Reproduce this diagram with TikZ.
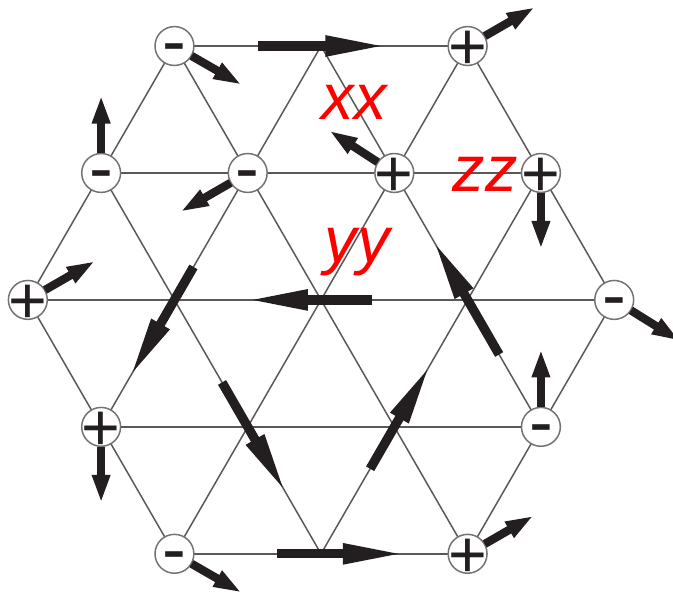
\documentclass[tikz,border=0pt]{standalone}
\usepackage{fontspec}
\usepackage{tikz}
\usetikzlibrary{arrows.meta,calc}
\newfontfamily\labelfont{Liberation Sans}
\definecolor{spinblack}{HTML}{231F20}

\begin{document}
\begin{tikzpicture}[scale=1.55,
  bond/.style={black!65,line width=0.45pt},
  site/.style={circle,draw=black!55,line width=0.45pt,fill=white,minimum size=11.7pt,inner sep=0pt},
  plussign/.style={font=\labelfont\fontsize{20}{20}\selectfont,text height=14.1pt,text depth=0pt,inner sep=0pt,text=spinblack},
  minussign/.style={font=\labelfont\fontsize{21.5}{21.5}\selectfont,text height=11.65pt,text depth=0pt,inner sep=0pt,text=spinblack},
  psite/.style={site,label={[plussign]center:+}},
  msite/.style={site,label={[minussign]center:-}},
  spin/.style={spinblack,line width=2.5pt,-{Triangle[length=8.5pt,width=5pt]}},
  bondspin/.style={spinblack,line width=2.8pt,-{Triangle[length=19pt,width=5.6pt]}},
  coupling/.style={red,font=\labelfont\itshape\fontsize{19.5}{19.5}\selectfont,anchor=base,inner sep=0pt}]
\useasboundingbox (-2.19,-2.046) rectangle (2.401,2.046);
% lattice
\foreach \r in {0,60,120}
  \foreach \k in {-2,...,2}
    \draw[bond,rotate=\r] ({-2+abs(\k)/2},{\k*0.866}) -- ({2-abs(\k)/2},{\k*0.866});
% spins on the bonds
\coordinate (b1) at (0,1.732);
\coordinate (b2) at (0,0);
\coordinate (b3) at (0,-1.732);
\coordinate (b4) at (-1,0);
\coordinate (b5) at (-0.5,-0.866);
\coordinate (b6) at (0.5,-0.866);
\coordinate (b7) at (1,0);
\draw[bondspin] ($(b1)+(0:-0.43)$) -- ($(b1)+(0:0.46)$);
\draw[bondspin] ($(b2)+(180:-0.35)$) -- ($(b2)+(180:0.52)$);
\draw[bondspin] ($(b3)+(0:-0.30)$) -- ($(b3)+(0:0.58)$);
\draw[bondspin] ($(b4)+(240:-0.26)$) -- ($(b4)+(240:0.62)$);
\draw[bondspin] ($(b5)+(300:-0.35)$) -- ($(b5)+(300:0.53)$);
\draw[bondspin] ($(b6)+(60:-0.33)$) -- ($(b6)+(60:0.50)$);
\draw[bondspin] ($(b7)+(120:-0.43)$) -- ($(b7)+(120:0.48)$);
% charged sites
\node[msite] (s1) at (-1,1.732) {};
\node[psite] (s2) at (1,1.732) {};
\node[msite] (s3) at (-1.5,0.866) {};
\node[msite] (s4) at (-0.5,0.866) {};
\node[psite] (s5) at (0.5,0.866) {};
\node[psite] (s6) at (1.5,0.866) {};
\node[psite] (s7) at (-2,0) {};
\node[msite] (s8) at (2,0) {};
\node[psite] (s9) at (-1.5,-0.866) {};
\node[msite] (s10) at (1.5,-0.866) {};
\node[msite] (s11) at (-1,-1.732) {};
\node[psite] (s12) at (1,-1.732) {};
% spins on the sites
\draw[spin] ($(s1)+(-30:0.135)$) -- ($(s1)+(-30:0.53)$);
\draw[spin] ($(s2)+(30:0.135)$) -- ($(s2)+(30:0.53)$);
\draw[spin] ($(s3)+(90:0.135)$) -- ($(s3)+(90:0.53)$);
\draw[spin] ($(s4)+(210:0.135)$) -- ($(s4)+(210:0.53)$);
\draw[spin] ($(s5)+(147:0.135)$) -- ($(s5)+(147:0.53)$);
\draw[spin] ($(s6)+(270:0.135)$) -- ($(s6)+(270:0.52)$);
\draw[spin] ($(s7)+(30:0.135)$) -- ($(s7)+(30:0.53)$);
\draw[spin] ($(s8)+(-32:0.135)$) -- ($(s8)+(-32:0.53)$);
\draw[spin] ($(s9)+(270:0.135)$) -- ($(s9)+(270:0.52)$);
\draw[spin] ($(s10)+(90:0.135)$) -- ($(s10)+(90:0.53)$);
\draw[spin] ($(s11)+(-30:0.135)$) -- ($(s11)+(-30:0.53)$);
\draw[spin] ($(s12)+(30:0.135)$) -- ($(s12)+(30:0.52)$);
% couplings
\node[coupling] (xx) at (0.225,1.228) {xx};
\node[coupling] (zz) at (1.119,0.737) {zz};
\node[coupling] (yy) at (0.246,0.252) {yy};
\end{tikzpicture}
\end{document}
